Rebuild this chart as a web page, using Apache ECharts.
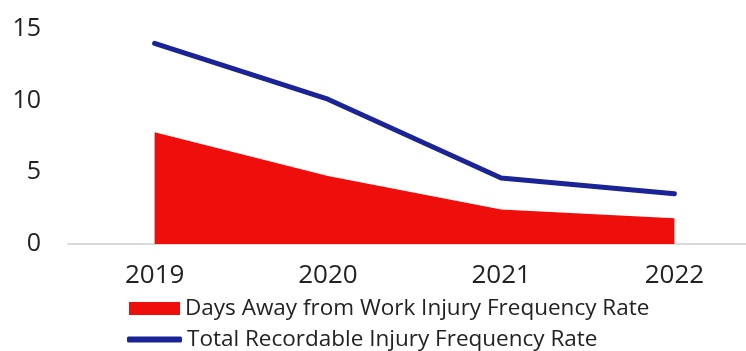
<!DOCTYPE html>
<html>
<head>
<meta charset="utf-8">
<script src="https://cdn.jsdelivr.net/npm/echarts@6/dist/echarts.min.js"></script>
<style>
  html, body { margin: 0; padding: 0; background: #fff; }
  #chart { width: 746px; height: 351px; }
</style>
</head>
<body>
<div id="chart"></div>
<script>
// Injury frequency rates by year
const years = ['2019', '2020', '2021', '2022'];
const daysAwayRate = [7.8, 4.75, 2.4, 1.8];
const recordableRate = [14.0, 10.1, 4.6, 3.5];
const yTicks = [0, 5, 10, 15];

const seriesNames = [
  'Days Away from Work Injury Frequency Rate',
  'Total Recordable Injury Frequency Rate'
];

const RED = '#ee0e0b';
const BLUE = '#1a2496';
const FONT = '"Open Sans", Lato, sans-serif';
const TEXT = '#222222';

const chart = echarts.init(document.getElementById('chart'), null, { renderer: 'canvas' });

chart.setOption({
  animation: false,
  textStyle: { fontFamily: FONT },
  grid: {
    left: 68, top: 29, width: 693, bottom: 107,
    containLabel: false,
    outerBoundsMode: 'none'
  },
  xAxis: {
    type: 'category',
    data: years,
    boundaryGap: true,
    axisLine: { show: true, lineStyle: { color: '#d9d9d9', width: 2 } },
    axisTick: { show: false },
    axisLabel: { color: TEXT, fontSize: 26, fontFamily: FONT, margin: 19 }
  },
  yAxis: {
    type: 'value',
    min: yTicks[0],
    max: yTicks[yTicks.length - 1],
    interval: 5,
    axisLine: { show: false },
    axisTick: { show: false },
    splitLine: { show: false },
    axisLabel: { color: TEXT, fontSize: 25, fontFamily: FONT, margin: 27 }
  },
  legend: [
    {
      data: [{ name: seriesNames[0], icon: 'rect' }],
      left: 129, top: 297,
      itemWidth: 51, itemHeight: 13, itemGap: 6,
      textStyle: { color: TEXT, fontSize: 22.5, fontFamily: FONT },
      padding: 0
    },
    {
      data: [{ name: seriesNames[1], icon: 'roundRect' }],
      left: 127, top: 328,
      itemWidth: 55, itemHeight: 6, itemGap: 6,
      textStyle: { color: TEXT, fontSize: 22.5, fontFamily: FONT },
      padding: 0
    }
  ],
  series: [
    {
      name: seriesNames[0],
      type: 'line',
      data: daysAwayRate,
      showSymbol: false,
      symbol: 'none',
      lineStyle: { width: 0, color: RED },
      itemStyle: { color: RED },
      areaStyle: { color: RED, opacity: 1 },
      z: 1
    },
    {
      name: seriesNames[1],
      type: 'line',
      data: recordableRate,
      showSymbol: false,
      symbol: 'none',
      lineStyle: { width: 5, color: BLUE, cap: 'round', join: 'round' },
      itemStyle: { color: BLUE },
      z: 2
    }
  ]
});
</script>
</body>
</html>
